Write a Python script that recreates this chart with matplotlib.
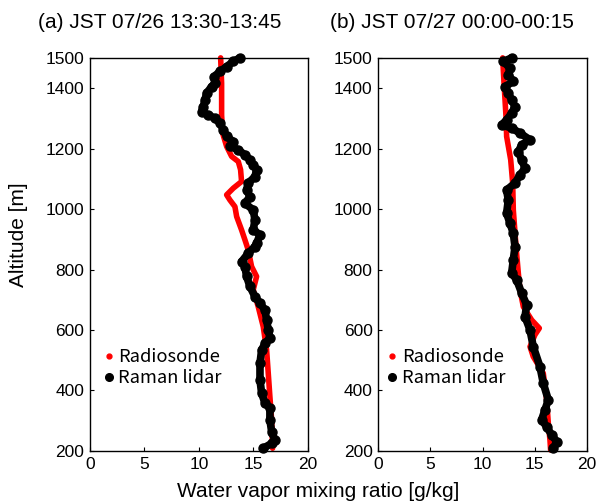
import matplotlib
matplotlib.use('Agg')
import matplotlib.pyplot as plt
from matplotlib.lines import Line2D

plt.rcParams['font.family'] = ['Liberation Sans', 'DejaVu Sans']

# panel (a) JST 07/26 13:30-13:45
sonde_a_x = [11.99, 12.08, 12.08, 12.17, 12.54, 13.0, 13.61, 13.82, 13.91, 13.15, 12.54, 12.84,
             13.30, 13.46, 13.91, 14.22, 14.52, 14.83, 15.29, 14.98, 15.44, 15.90, 16.21,
             16.36, 16.51, 16.67, 16.76]
sonde_a_alt = [1500, 1416, 1311, 1251, 1207, 1174, 1157, 1130, 1091, 1069, 1047, 1030,
               1008, 975, 931, 898, 865, 810, 777, 733, 677, 611, 534,
               457, 380, 303, 209]
lidar_a_x = [13.76, 13.15, 12.54, 11.93, 11.38, 11.47, 11.16, 10.70, 10.55, 10.40, 10.24, 10.86,
             11.47, 11.93, 12.23, 12.54, 13.15, 12.84, 13.61, 14.22, 14.68, 14.98, 15.29, 15.14,
             14.52, 14.37, 14.68, 14.22, 14.98, 15.14, 14.98, 15.60, 15.29, 15.14, 14.52, 13.91,
             14.22, 14.37, 14.68, 15.14, 15.60, 16.06, 16.21, 16.36, 16.51, 16.06, 15.75, 15.60,
             15.60, 15.75, 16.06, 16.51, 16.51, 16.67, 16.97, 16.67, 15.90]
lidar_a_alt = [1500, 1488, 1471, 1455, 1438, 1416, 1405, 1383, 1361, 1339, 1322, 1311,
               1300, 1284, 1262, 1240, 1223, 1207, 1196, 1179, 1163, 1146, 1130, 1107,
               1086, 1063, 1041, 1019, 997, 964, 931, 915, 887, 876, 854, 826,
               810, 777, 744, 710, 689, 666, 633, 600, 573, 556, 534, 490,
               435, 391, 358, 341, 303, 264, 236, 225, 209]

# panel (b) JST 07/27 00:00-00:15
sonde_b_x = [11.93, 12.06, 12.25, 12.31, 12.70, 12.89, 12.95, 13.21, 13.43, 13.59, 13.91,
             14.71, 15.44, 15.02, 14.55, 14.86, 15.82, 16.14, 16.30, 16.46, 16.52]
sonde_b_alt = [1500, 1416, 1306, 1240, 1163, 1086, 997, 876, 788, 733, 677,
               633, 606, 584, 545, 512, 457, 369, 292, 236, 203]
lidar_b_x = [12.79, 11.99, 12.63, 12.47, 12.95, 12.15, 12.47, 12.79, 13.11, 12.79, 12.31,
             11.83, 12.79, 13.59, 14.55, 13.75, 13.43, 13.75, 14.07, 13.59, 13.11, 12.31,
             12.47, 12.31, 12.63, 12.95, 13.11, 12.95, 12.79, 13.27, 13.75, 14.23, 14.07,
             14.55, 14.86, 15.50, 15.82, 16.30, 15.98, 15.66, 16.14, 16.62, 17.10, 16.78]
lidar_b_alt = [1500, 1488, 1466, 1444, 1422, 1405, 1383, 1361, 1339, 1317, 1295,
               1278, 1268, 1251, 1229, 1212, 1190, 1163, 1135, 1113, 1086, 1063,
               1030, 986, 953, 920, 876, 832, 788, 766, 722, 683, 644,
               600, 545, 479, 424, 369, 336, 303, 280, 253, 231, 209]

titles = ['(a) JST 07/26 13:30-13:45', '(b) JST 07/27 00:00-00:15']
labels = ['Radiosonde', 'Raman lidar']

fig = plt.figure(figsize=(6.02, 5.04), dpi=100)
ax_a = fig.add_axes([0.1495, 0.1052, 0.362, 0.780])
ax_b = fig.add_axes([0.628, 0.1052, 0.347, 0.780])

panels = [(ax_a, sonde_a_x, sonde_a_alt, lidar_a_x, lidar_a_alt, 0.01),
          (ax_b, sonde_b_x, sonde_b_alt, lidar_b_x, lidar_b_alt, -0.01)]

for ax, sx, sy, lx, ly, leg_x in panels:
    ax.plot(sx, sy, color='red', lw=4, solid_capstyle='round', solid_joinstyle='round',
            clip_on=False, zorder=2)
    ax.plot(lx, ly, color='black', lw=5.5, marker='o', ms=6.5, solid_capstyle='round',
            solid_joinstyle='round', clip_on=False, zorder=3)
    ax.set_xlim(0, 20)
    ax.set_ylim(200, 1500)
    ax.set_xticks([0, 5, 10, 15, 20])
    ax.set_yticks([200, 400, 600, 800, 1000, 1200, 1400, 1500])
    ax.tick_params(direction='in', labelsize=12.5, length=3, pad=4)
    for s in ax.spines.values():
        s.set_linewidth(1.0)
    handles = [Line2D([], [], ls='none', marker='o', color='red', ms=3.5),
               Line2D([], [], ls='none', marker='o', color='black', ms=5.5)]
    ax.legend(handles, labels, loc='lower left', bbox_to_anchor=(leg_x, 0.13),
              frameon=False, handlelength=0.4, handletextpad=0.3, labelspacing=0.15,
              borderpad=0.2, prop={'family': 'Noto Sans CJK JP', 'size': 13.2})

fig.text(0.063, 0.956, titles[0], fontsize=15, va='center', ha='left')
fig.text(0.548, 0.956, titles[1], fontsize=15, va='center', ha='left')
fig.text(0.528, 0.024, 'Water vapor mixing ratio [g/kg]', fontsize=15, ha='center', va='center')
fig.text(0.03, 0.534, 'Altitude [m]', fontsize=15, rotation=90, ha='center', va='center')

fig.savefig('out.png', dpi=100)
